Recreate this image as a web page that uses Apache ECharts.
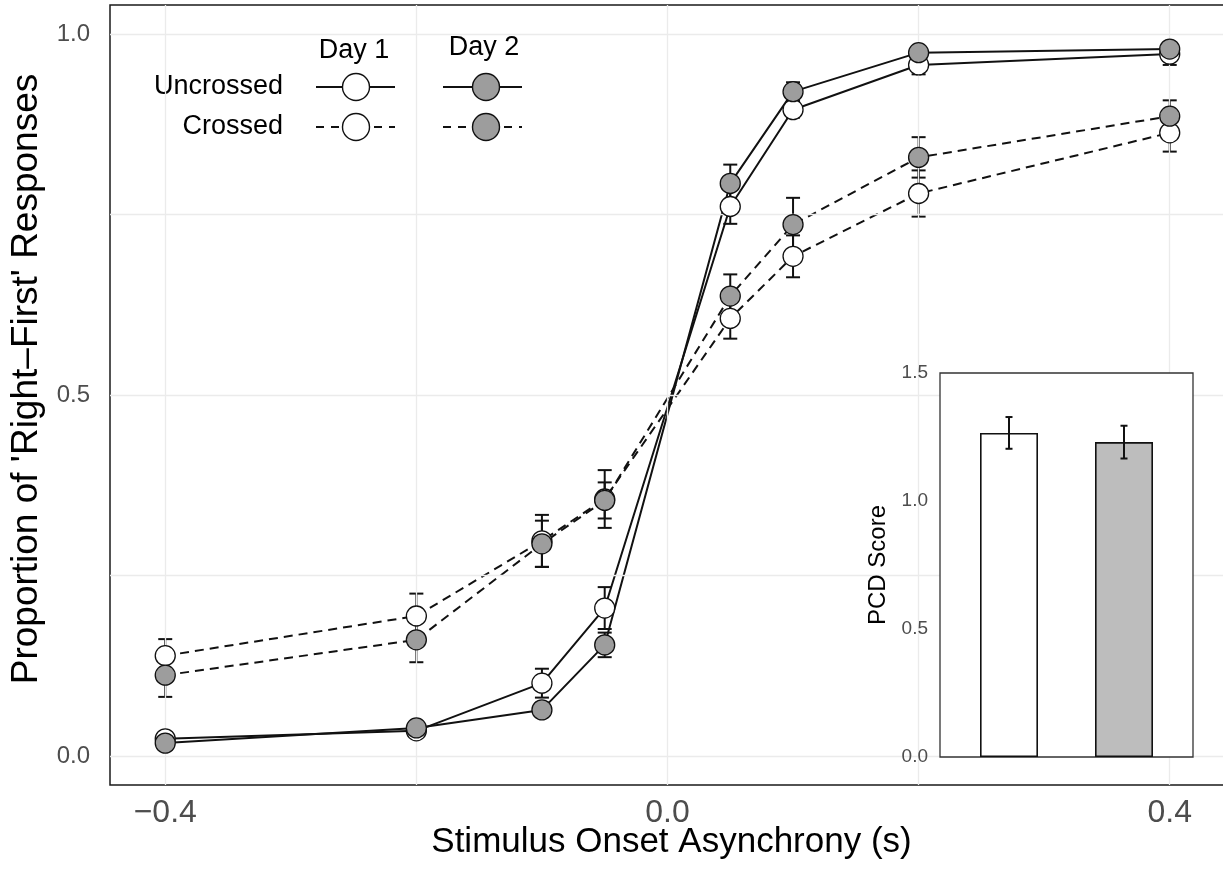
<!DOCTYPE html>
<html>
<head>
<meta charset="utf-8">
<script src="https://cdn.jsdelivr.net/npm/echarts@6/dist/echarts.min.js"></script>
<style>
  html, body { margin: 0; padding: 0; background: #fff; }
  #chart { width: 1223px; height: 871px; }
</style>
</head>
<body>
<div id="chart"></div>
<script>
// Stimulus onset asynchronies (s)
const soa = [-0.4, -0.2, -0.1, -0.05, 0.05, 0.1, 0.2, 0.4];

// Proportion of 'right-first' responses, with standard errors
const uncrossedDay1   = [0.024, 0.035, 0.101, 0.205, 0.761, 0.895, 0.957, 0.972];
const uncrossedDay1Se = [0.008, 0.008, 0.020, 0.029, 0.024, 0.011, 0.013, 0.015];
const uncrossedDay2   = [0.018, 0.039, 0.064, 0.154, 0.793, 0.920, 0.974, 0.979];
const uncrossedDay2Se = [0.006, 0.007, 0.010, 0.017, 0.026, 0.013, 0.008, 0.008];
const crossedDay1     = [0.139, 0.194, 0.298, 0.356, 0.606, 0.692, 0.779, 0.863];
const crossedDay1Se   = [0.023, 0.031, 0.036, 0.040, 0.028, 0.029, 0.032, 0.026];
const crossedDay2     = [0.112, 0.161, 0.294, 0.354, 0.637, 0.736, 0.829, 0.886];
const crossedDay2Se   = [0.030, 0.031, 0.032, 0.025, 0.030, 0.037, 0.028, 0.022];

// Inset: PCD score per day
const pcdDays  = [1, 2];
const pcdScore = [1.266, 1.230];
const pcdSe    = [0.062, 0.064];

// Tick labels and grid positions
const xTicks = [-0.4, 0, 0.4];
const yTicks = [0, 0.5, 1.0];
const xGrid = [-0.4, -0.2, 0, 0.2, 0.4];
const yGrid = [0, 0.25, 0.5, 0.75, 1.0];

const GRAY_PT = '#9d9d9d';
const GRAY_BAR = '#bdbdbd';
const FONT = '"Liberation Sans", Arial, Helvetica, sans-serif';
const FONT_NARROW = '"Liberation Sans Narrow", "Arial Narrow", "Liberation Sans", sans-serif';

function fmt(v) {
  const s = Math.abs(v).toFixed(1);
  return v < 0 ? '\u2212' + s : s;
}

function pairs(ys) { return soa.map((x, i) => [x, ys[i]]); }
function errRows(ys, se) { return soa.map((x, i) => [x, ys[i] - se[i], ys[i] + se[i]]); }

function errorBarSeries(rows, xIdx, capHalf, z) {
  return {
    type: 'custom',
    xAxisIndex: xIdx, yAxisIndex: xIdx,
    z: z,
    silent: true,
    data: rows,
    renderItem: function (params, api) {
      const lo = api.coord([api.value(0), api.value(1)]);
      const hi = api.coord([api.value(0), api.value(2)]);
      const style = { stroke: '#111', lineWidth: 2 };
      return {
        type: 'group',
        children: [
          { type: 'line', shape: { x1: lo[0], y1: lo[1], x2: hi[0], y2: hi[1] }, style: style },
          { type: 'line', shape: { x1: lo[0] - capHalf, y1: lo[1], x2: lo[0] + capHalf, y2: lo[1] }, style: style },
          { type: 'line', shape: { x1: hi[0] - capHalf, y1: hi[1], x2: hi[0] + capHalf, y2: hi[1] }, style: style }
        ]
      };
    }
  };
}

function lineSeries(ys, dashed) {
  return {
    type: 'line', xAxisIndex: 0, yAxisIndex: 0, z: 3,
    data: pairs(ys), showSymbol: false, silent: true,
    lineStyle: { color: '#111', width: 2, type: dashed ? [9, 6] : 'solid' }
  };
}

function pointSeries(ys, fill, z) {
  return {
    type: 'scatter', xAxisIndex: 0, yAxisIndex: 0, z: z,
    data: pairs(ys), symbol: 'circle', symbolSize: 20, silent: true,
    itemStyle: { color: fill, borderColor: '#111', borderWidth: 1.3, opacity: 1 }
  };
}

// Legend drawn as a small two-column key
const legendRows = [
  { label: 'Uncrossed', y: 87, dash: null },
  { label: 'Crossed', y: 127, dash: [8, 7] }
];
const legendCols = [
  { label: 'Day 1', cx: 356, titleY: 51, fill: '#fff', x1: 316, x2: 395 },
  { label: 'Day 2', cx: 486, titleY: 48, fill: GRAY_PT, x1: 443, x2: 522 }
];
const legendGraphics = [];
legendCols.forEach(c => {
  legendGraphics.push({
    type: 'text', x: c.cx - 2, y: c.titleY,
    style: { text: c.label, font: '27px ' + FONT, fill: '#000', align: 'center', verticalAlign: 'middle' }
  });
});
legendRows.forEach(r => {
  legendGraphics.push({
    type: 'text', x: 283, y: r.y,
    style: { text: r.label, font: '27px ' + FONT, fill: '#000', align: 'right', verticalAlign: 'middle' }
  });
  legendCols.forEach(c => {
    if (r.dash) {
      legendGraphics.push({
        type: 'line', shape: { x1: c.x1, y1: r.y, x2: c.cx - 13, y2: r.y },
        style: { stroke: '#111', lineWidth: 2, lineDash: r.dash }
      });
      legendGraphics.push({
        type: 'line', shape: { x1: c.cx + 18, y1: r.y, x2: c.x2, y2: r.y },
        style: { stroke: '#111', lineWidth: 2, lineDash: r.dash }
      });
    } else {
      legendGraphics.push({
        type: 'line', shape: { x1: c.x1, y1: r.y, x2: c.x2, y2: r.y },
        style: { stroke: '#111', lineWidth: 2 }
      });
    }
    legendGraphics.push({
      type: 'circle', shape: { cx: c.cx, cy: r.y, r: 13.5 },
      style: { fill: c.fill, stroke: '#111', lineWidth: 1.4 }
    });
  });
});

const option = {
  animation: false,
  backgroundColor: '#fff',
  textStyle: { fontFamily: FONT },
  grid: [
    // the panel runs past the right edge of the canvas
    { left: 110, top: 5, right: -10, bottom: 86, outerBoundsMode: 'none', containLabel: false,
      show: true, borderColor: '#1a1a1a', borderWidth: 1.5, backgroundColor: 'transparent' },
    { left: 940, top: 373, width: 253, height: 384, outerBoundsMode: 'none', containLabel: false,
      show: true, borderColor: '#333', borderWidth: 1.3, backgroundColor: '#fff', z: 10 }
  ],
  xAxis: [
    {
      type: 'value', gridIndex: 0, min: -0.444, max: 0.4504,
      axisLine: { show: false }, axisTick: { show: false }, splitLine: { show: false },
      axisLabel: { customValues: xTicks, formatter: fmt, color: '#4d4d4d', fontSize: 32, margin: 12, fontFamily: FONT_NARROW },
      name: 'Stimulus Onset Asynchrony (s)', nameLocation: 'middle', nameGap: 40, nameMoveOverlap: false,
      nameTextStyle: { fontSize: 35, color: '#000', fontFamily: FONT }
    },
    {
      type: 'value', gridIndex: 1, min: 0.4, max: 2.6, z: 11,
      axisLine: { show: false }, axisTick: { show: false }, splitLine: { show: false },
      axisLabel: { show: false }
    }
  ],
  yAxis: [
    {
      type: 'value', gridIndex: 0, min: -0.04, max: 1.04,
      axisLine: { show: false }, axisTick: { show: false }, splitLine: { show: false },
      axisLabel: { customValues: yTicks, formatter: v => v.toFixed(1), color: '#4d4d4d', fontSize: 24, margin: 20, fontFamily: FONT },
      name: "Proportion of 'Right\u2013First' Responses", nameLocation: 'middle', nameGap: 65, nameMoveOverlap: false,
      nameTextStyle: { fontSize: 37, color: '#000', fontFamily: FONT, padding: [0, 0, 0, 32] }
    },
    {
      type: 'value', gridIndex: 1, min: 0, max: 1.5, interval: 0.5, z: 11,
      axisLine: { show: false }, axisTick: { show: false }, splitLine: { show: false },
      axisLabel: { formatter: v => v.toFixed(1), color: '#4d4d4d', fontSize: 19, margin: 12, fontFamily: FONT },
      name: 'PCD Score', nameLocation: 'middle', nameGap: 50, nameMoveOverlap: false,
      nameTextStyle: { fontSize: 24, color: '#000', fontFamily: FONT }
    }
  ],
  graphic: legendGraphics,
  series: [
    // panel grid lines
    {
      type: 'line', xAxisIndex: 0, yAxisIndex: 0, z: 1, data: [], silent: true,
      markLine: {
        silent: true, symbol: 'none', label: { show: false }, animation: false,
        lineStyle: { color: '#ebebeb', width: 1.3, type: 'solid' },
        data: xGrid.map(v => ({ xAxis: v })).concat(yGrid.map(v => ({ yAxis: v })))
      }
    },
    lineSeries(crossedDay1, true),
    lineSeries(crossedDay2, true),
    lineSeries(uncrossedDay1, false),
    lineSeries(uncrossedDay2, false),
    errorBarSeries(errRows(crossedDay1, crossedDay1Se), 0, 7, 4),
    errorBarSeries(errRows(crossedDay2, crossedDay2Se), 0, 7, 4),
    errorBarSeries(errRows(uncrossedDay1, uncrossedDay1Se), 0, 7, 4),
    errorBarSeries(errRows(uncrossedDay2, uncrossedDay2Se), 0, 7, 4),
    pointSeries(crossedDay1, '#fff', 5),
    pointSeries(uncrossedDay1, '#fff', 5),
    pointSeries(crossedDay2, GRAY_PT, 6),
    pointSeries(uncrossedDay2, GRAY_PT, 6),
    // inset bars
    {
      type: 'bar', xAxisIndex: 1, yAxisIndex: 1, z: 12, barWidth: 58, silent: true,
      data: pcdDays.map((d, i) => ({
        value: [d, pcdScore[i]],
        itemStyle: { color: i === 0 ? '#fff' : GRAY_BAR, borderColor: '#111', borderWidth: 1.6 }
      }))
    },
    errorBarSeries(pcdDays.map((d, i) => [d, pcdScore[i] - pcdSe[i], pcdScore[i] + pcdSe[i]]), 1, 3.5, 13)
  ]
};

const chart = echarts.init(document.getElementById('chart'), null, { renderer: 'canvas' });
chart.setOption(option);
</script>
</body>
</html>
